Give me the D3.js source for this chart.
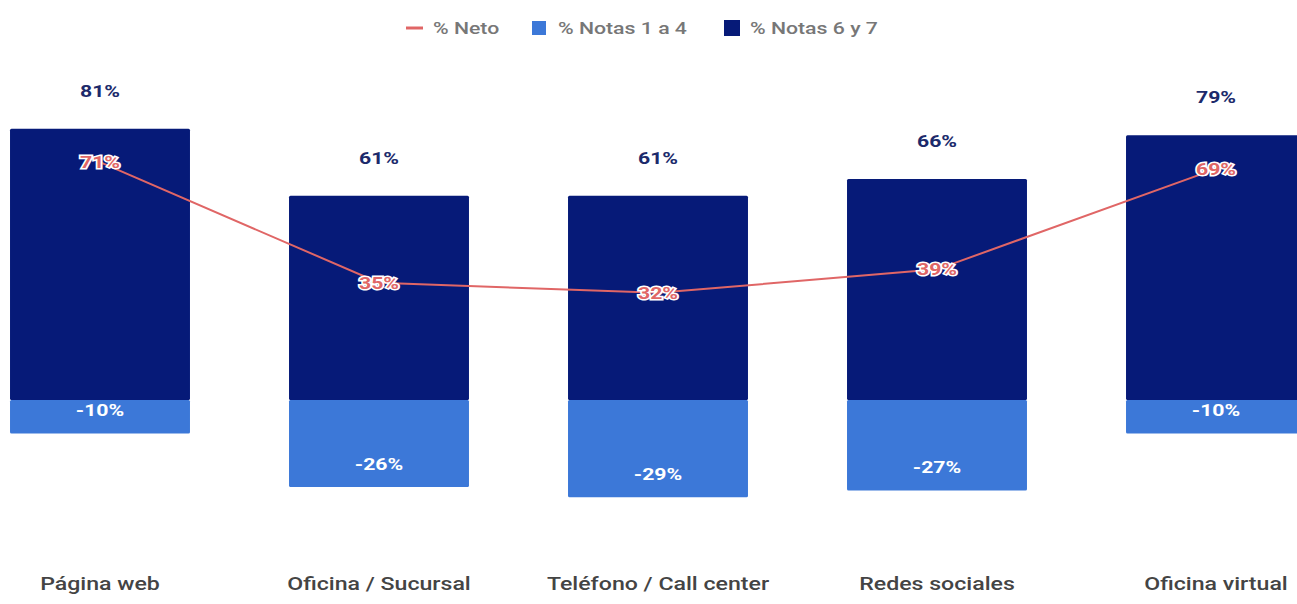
<!DOCTYPE html>
<html>
<head>
<meta charset="utf-8">
<script src="https://cdn.jsdelivr.net/npm/d3@7"></script>
<style>
  body { margin: 0; background: #fff; }
  svg { display: block; font-family: Roboto, "Noto Sans", sans-serif; }
</style>
</head>
<body>
<div id="chart"></div>
<script>
var categories = ["Página web", "Oficina / Sucursal", "Teléfono / Call center", "Redes sociales", "Oficina virtual"];
var notas67 = [81, 61, 61, 66, 79];
var notas14 = [-10, -26, -29, -27, -10];
var neto = [71, 35, 32, 39, 69];
var legendLabels = ["% Neto", "% Notas 1 a 4", "% Notas 6 y 7"];

var width = 1297, height = 604;
var dark = "#061a78", light = "#3c78d8", red = "#e06666";
var stretch = 1.25; // text in the picture is drawn wide

var svg = d3.select("#chart").append("svg")
    .attr("width", width)
    .attr("height", height);

var x = d3.scaleBand().domain(categories)
    .range([-39.5, 1355.5])
    .paddingInner(0.355)
    .paddingOuter(0.1775);

var y = d3.scaleLinear().domain([-40, 100]).range([534, 65]);

var rows = categories.map(function (c, i) {
    return { cat: c, pos: notas67[i], neg: notas14[i], net: neto[i] };
});

function cx(d) { return x(d.cat) + x.bandwidth() / 2; }
function wide(fx, fy) {
    return function (d) { return "translate(" + fx(d) + "," + fy(d) + ") scale(" + stretch + ",1)"; };
}

// bars
svg.selectAll(".pos").data(rows).enter().append("rect")
    .attr("class", "pos")
    .attr("x", function (d) { return x(d.cat); })
    .attr("y", function (d) { return y(d.pos); })
    .attr("width", x.bandwidth())
    .attr("height", function (d) { return y(0) - y(d.pos); })
    .attr("rx", 1.5)
    .attr("fill", dark);

svg.selectAll(".neg").data(rows).enter().append("rect")
    .attr("class", "neg")
    .attr("x", function (d) { return x(d.cat); })
    .attr("y", y(0))
    .attr("width", x.bandwidth())
    .attr("height", function (d) { return y(d.neg) - y(0); })
    .attr("rx", 1.5)
    .attr("fill", light);

// labels of bars
svg.selectAll(".posLbl").data(rows).enter().append("text")
    .attr("transform", wide(cx, function (d) { return y(d.pos) - 38; }))
    .attr("dy", "0.35em")
    .attr("text-anchor", "middle")
    .attr("font-size", 17).attr("font-weight", "bold")
    .attr("fill", "#1c2a6b")
    .text(function (d) { return d.pos + "%"; });

svg.selectAll(".negLbl").data(rows).enter().append("text")
    .attr("transform", wide(cx, function (d) { return y(d.neg) - 23; }))
    .attr("dy", "0.35em")
    .attr("text-anchor", "middle")
    .attr("font-size", 17).attr("font-weight", "bold")
    .attr("fill", "#fff")
    .text(function (d) { return d.neg + "%"; });

// net line
var line = d3.line()
    .x(cx)
    .y(function (d) { return y(d.net); });

svg.append("path").datum(rows)
    .attr("d", line)
    .attr("fill", "none")
    .attr("stroke", red)
    .attr("stroke-width", 2);

svg.selectAll(".netLbl").data(rows).enter().append("text")
    .attr("transform", wide(cx, function (d) { return y(d.net); }))
    .attr("dy", "0.35em")
    .attr("text-anchor", "middle")
    .attr("font-size", 17).attr("font-weight", "bold")
    .attr("fill", red)
    .attr("stroke", "#fff").attr("stroke-width", 3)
    .attr("paint-order", "stroke")
    .text(function (d) { return d.net + "%"; });

// category axis
var xAxis = svg.append("g")
    .attr("transform", "translate(0,590)")
    .call(d3.axisBottom(x).tickSize(0).tickPadding(0));
xAxis.select(".domain").remove();
xAxis.selectAll("text")
    .attr("y", 0).attr("dy", "0")
    .attr("transform", "scale(" + stretch + ",1)")
    .attr("font-family", "Roboto, sans-serif")
    .attr("font-size", 18.5).attr("font-weight", 500)
    .attr("fill", "#444");

// legend
var legend = svg.append("g").attr("transform", "translate(0,28)");
var lx = [406, 532, 724];
legend.append("line").attr("x1", lx[0]).attr("x2", lx[0] + 17)
    .attr("stroke", red).attr("stroke-width", 3);
legend.append("rect").attr("x", lx[1]).attr("y", -7).attr("width", 14).attr("height", 14).attr("fill", light);
legend.append("rect").attr("x", lx[2]).attr("y", -8).attr("width", 16).attr("height", 16).attr("fill", dark);
legendLabels.forEach(function (t, i) {
    legend.append("text")
        .attr("transform", "translate(" + (lx[i] + (i === 0 ? 27 : i === 1 ? 26 : 26)) + ",0) scale(" + stretch + ",1)")
        .attr("dy", "0.35em")
        .attr("font-size", 17).attr("font-weight", 500)
        .attr("fill", "#777")
        .text(t);
});
</script>
</body>
</html>
